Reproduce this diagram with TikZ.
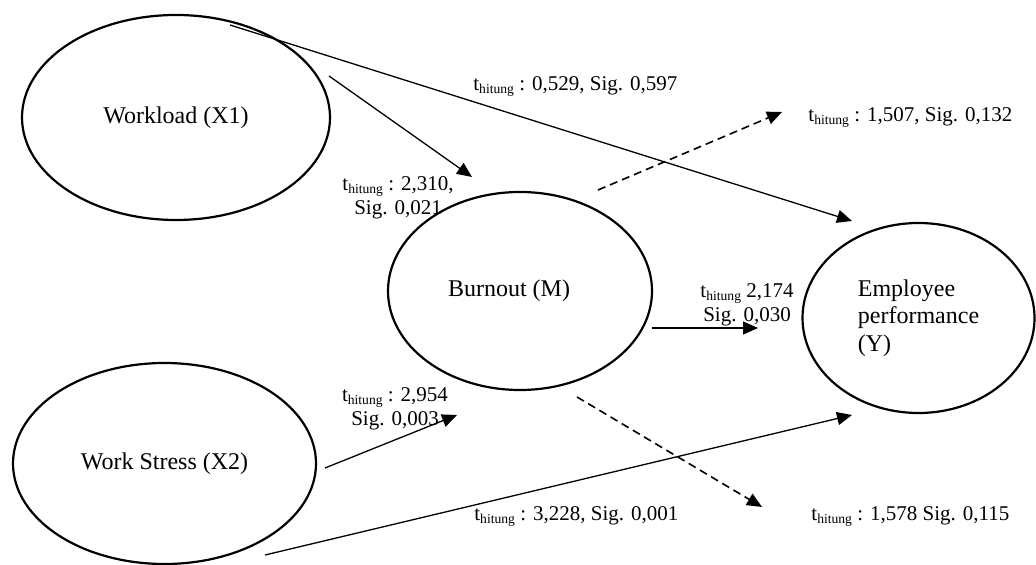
\documentclass[tikz,border=0pt]{standalone}
\usepackage{fontspec}
\setmainfont{Liberation Serif}
\usetikzlibrary{shapes.geometric,arrows.meta}
\newcommand{\thit}{t\raisebox{-1.5pt}{\fontsize{6.8}{7}\selectfont hitung}}
\begin{document}
\begin{tikzpicture}[x=0.5pt,y=-0.5pt,
  ell/.style={draw, ellipse, line width=1.1pt, inner sep=0pt, font=\fontsize{12}{13.75}\selectfont},
  conn/.style={line width=0.65pt, -{Triangle[length=7.5pt,width=6.5pt]}},
  dconn/.style={conn, line width=0.8pt, dash pattern=on 4pt off 2.5pt},
  lab/.style={inner sep=0pt, font=\fontsize{10.5}{12}\selectfont, align=center}
]
\useasboundingbox (0,0) rectangle (1036,565);

% constructs
\node[ell, minimum width=154pt, minimum height=102.5pt] (wl) at (176,117.5) {Workload (X1)};
\node[ell, minimum width=132pt, minimum height=99pt] (bur) at (520,291) {\hspace*{-11pt}Burnout (M)};
\node[ell, minimum width=116pt, minimum height=95pt, align=left] (emp) at (918.5,318) {Employee\\performance\\(Y)};
\node[ell, minimum width=151.5pt, minimum height=100.5pt] (ws) at (164.5,463.5) {Work Stress (X2)};

% connector end points
\coordinate (a1s) at (230,25);   \coordinate (a1e) at (852,221);
\coordinate (a2s) at (329,76);   \coordinate (a2e) at (472,177);
\coordinate (a3s) at (598,190);  \coordinate (a3e) at (782,112);
\coordinate (a4s) at (652,328);  \coordinate (a4e) at (758,328);
\coordinate (a5s) at (325,468);  \coordinate (a5e) at (457,415);
\coordinate (a6s) at (265,555);  \coordinate (a6e) at (852,415);
\coordinate (a7s) at (577,397);  \coordinate (a7e) at (762,507);

% connectors
\draw[conn] (a1s) -- (a1e);
\draw[conn] (a2s) -- (a2e);
\draw[dconn] (a3s) -- (a3e);
\draw[conn] (a4s) -- (a4e);
\draw[conn] (a5s) -- (a5e);
\draw[conn] (a6s) -- (a6e);
\draw[dconn] (a7s) -- (a7e);

% labels
\node[lab, anchor=base west] (l1) at (473,91) {\thit{} : 0,529, Sig. 0,597};
\node[lab, anchor=base west] (l2) at (808,122) {\thit{} : 1,507, Sig. 0,132};
\node[lab, anchor=north] (l3) at (398,176) {\thit{} : 2,310,\\Sig. 0,021};
\node[lab, anchor=north] (l4) at (395,387.5) {\thit{} : 2,954\\Sig. 0,003};
\node[lab, anchor=north] (l5) at (747,283) {\thit{} 2,174\\Sig. 0,030};
\node[lab, anchor=base west] (l6) at (474,520) {\thit{} : 3,228, Sig. 0,001};
\node[lab, anchor=base west] (l7) at (811,520) {\thit{} : 1,578 Sig. 0,115};
\end{tikzpicture}
\end{document}
